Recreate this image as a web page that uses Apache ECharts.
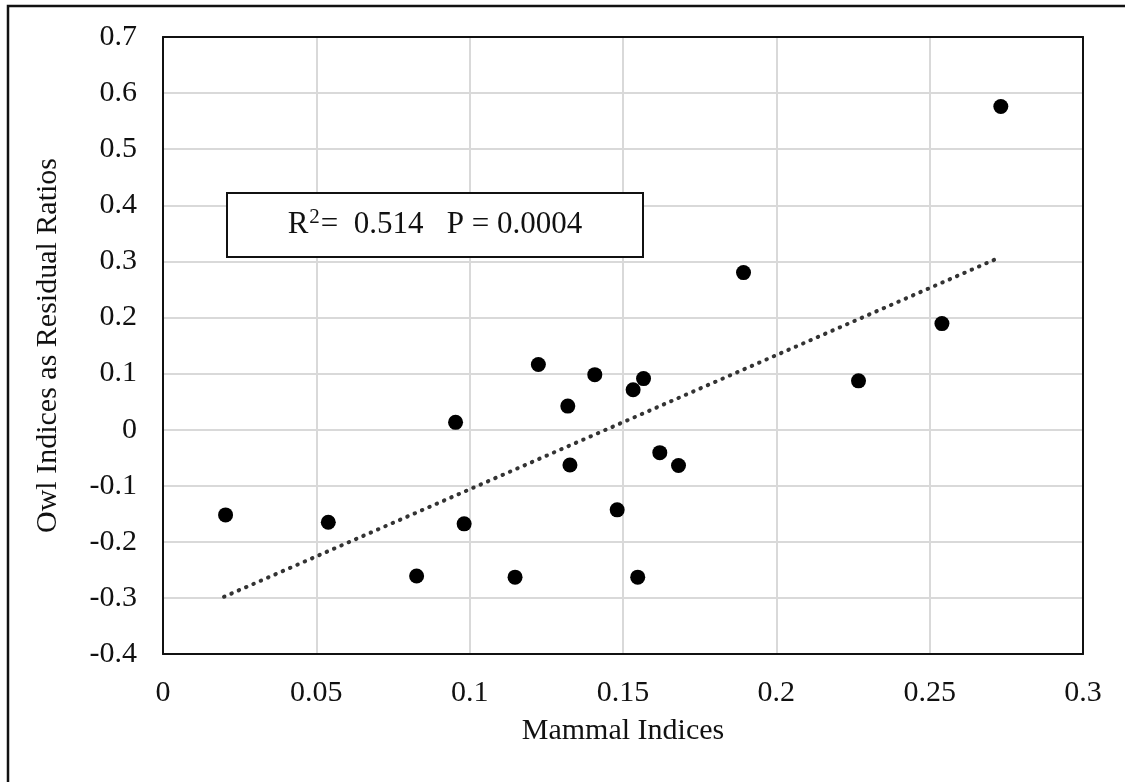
<!DOCTYPE html>
<html>
<head>
<meta charset="utf-8">
<script src="https://cdn.jsdelivr.net/npm/echarts@6/dist/echarts.min.js"></script>
<style>
	html, body { margin: 0; padding: 0; background: #fff; }
	#echart { width: 1125px; height: 782px; }
</style>
</head>
<body>
<div id="echart"></div>
<script>
// values
let mammalIdx = [0.0204, 0.0539, 0.0827, 0.0954, 0.0982, 0.1148, 0.1224, 0.1320, 0.1327, 0.1408,
	0.1481, 0.1533, 0.1548, 0.1567, 0.1620, 0.1681, 0.1893, 0.2268, 0.2540, 0.2732];
let owlIdx = [-0.152, -0.165, -0.261, 0.013, -0.168, -0.263, 0.116, 0.042, -0.063, 0.098,
	-0.143, 0.071, -0.263, 0.091, -0.041, -0.064, 0.280, 0.087, 0.189, 0.576];
let trendX = [0.0199, 0.2724];
let trendY = [-0.298, 0.306];
let statText = '{r|R}{s|2}{r|=  0.514   P = 0.0004}';

function drawChart() {
	let dom = document.getElementById("echart");
	let myChart = echarts.init(dom);
	let font = '"Liberation Serif", "Times New Roman", serif';
	let frameLine = { show: true, onZero: false, lineStyle: { color: '#111', width: 2 } };

	let option = {
		backgroundColor: '#fff',
		animation: false,
		textStyle: { fontFamily: font },
		grid: {
			left: 163,
			top: 37,
			right: 42,
			bottom: 128
		},
		xAxis: [
			{
				type: 'value',
				min: 0,
				max: 0.3,
				interval: 0.05,
				name: 'Mammal Indices',
				nameLocation: 'middle',
				nameGap: 62,
				nameTextStyle: { fontSize: 30, color: '#111', fontFamily: font },
				axisLine: frameLine,
				axisTick: { show: false },
				axisLabel: { fontSize: 30, color: '#111', margin: 24, fontFamily: font },
				splitLine: { lineStyle: { color: '#d9d9d9', width: 2 } }
			},
			{
				type: 'value',
				position: 'top',
				min: 0,
				max: 0.3,
				axisLine: frameLine,
				axisTick: { show: false },
				axisLabel: { show: false },
				splitLine: { show: false }
			}
		],
		yAxis: [
			{
				type: 'value',
				min: -0.4,
				max: 0.7,
				interval: 0.1,
				name: 'Owl Indices as Residual Ratios',
				nameLocation: 'middle',
				nameGap: 100,
				nameTextStyle: { fontSize: 30, color: '#111', fontFamily: font },
				axisLine: frameLine,
				axisTick: { show: false },
				axisLabel: {
					fontSize: 30, color: '#111', margin: 26, fontFamily: font,
					formatter: function(v) { return String(Math.round(v * 10) / 10); }
				},
				splitLine: { lineStyle: { color: '#d9d9d9', width: 2 } }
			},
			{
				type: 'value',
				position: 'right',
				min: -0.4,
				max: 0.7,
				axisLine: frameLine,
				axisTick: { show: false },
				axisLabel: { show: false },
				splitLine: { show: false }
			}
		],
		series: [
			{
				type: 'line',
				data: trendX.map((x, i) => [x, trendY[i]]),
				symbol: 'none',
				lineStyle: { color: '#333', width: 4, type: [0.5, 7.5], cap: 'round' },
				z: 2
			},
			{
				type: 'scatter',
				data: mammalIdx.map((x, i) => [x, owlIdx[i]]),
				symbol: 'circle',
				symbolSize: 15,
				itemStyle: { color: '#000', opacity: 1 },
				z: 3
			}
		],
		graphic: [
			{
				type: 'rect',
				shape: { x: 8, y: 6, width: 1300, height: 900 },
				style: { fill: 'none', stroke: '#111', lineWidth: 2.5 },
				silent: true
			},
			{
				type: 'rect',
				shape: { x: 227, y: 193, width: 416, height: 64 },
				style: { fill: '#fff', stroke: '#111', lineWidth: 2 },
				z: 10
			},
			{
				type: 'text',
				x: 435,
				y: 225,
				style: {
					text: statText,
					fontFamily: font,
					align: 'center',
					verticalAlign: 'middle',
					rich: {
						r: { fontSize: 31, fontFamily: font, fill: '#111', lineHeight: 36 },
						s: { fontSize: 21, fontFamily: font, fill: '#111', verticalAlign: 'top', lineHeight: 36, padding: [0, 1, 12, 1] }
					}
				},
				z: 11
			}
		]
	};

	myChart.setOption(option);
}

drawChart();
</script>
</body>
</html>
